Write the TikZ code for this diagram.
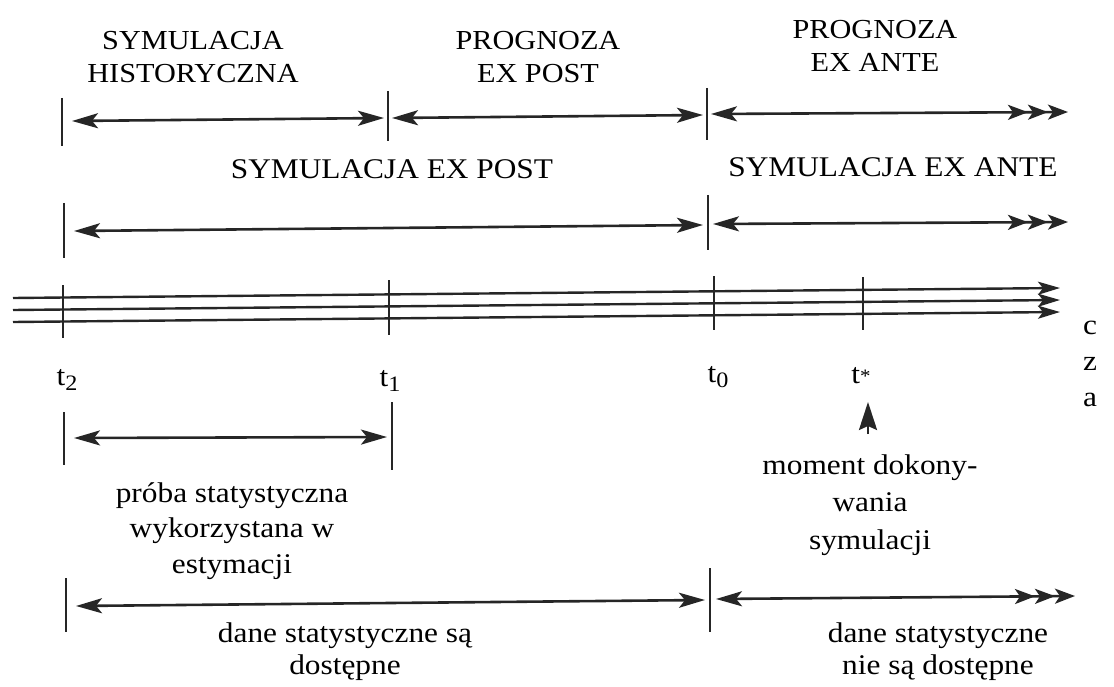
\documentclass[tikz,border=0pt]{standalone}
\usepackage{fontspec}
\setmainfont{Liberation Serif}[FakeStretch=1.1]
\usetikzlibrary{arrows.meta}
\newcommand{\tsub}[1]{t\raisebox{-0.35ex}{\fontsize{22}{22}\selectfont #1}}
\begin{document}
\begin{tikzpicture}[x=1pt,y=-1pt,
  txt/.style={font=\fontsize{28.5}{34}\selectfont, align=center, inner sep=0pt},
  toptxt/.style={txt, font=\fontsize{27.5}{33.5}\selectfont},
  tick/.style={line width=2.6pt, draw=black!85},
  span/.style={line width=2.6pt, draw=black!85, {Stealth[length=26pt,width=15pt,inset=6pt]}-{Stealth[length=26pt,width=15pt,inset=6pt]}},
  open/.style={line width=2.6pt, draw=black!85, {Stealth[length=26pt,width=15pt,inset=6pt]}-{Stealth[length=20pt,width=15pt,inset=5pt] Stealth[length=20pt,width=15pt,inset=5pt] Stealth[length=20pt,width=15pt,inset=5pt]}},
  axis/.style={line width=2.4pt, draw=black!85, -{Stealth[length=22pt,width=13pt,inset=5pt]}},
  up/.style={line width=2.6pt, draw=black!85, -{Stealth[length=28pt,width=18pt,inset=4pt]}}]
\useasboundingbox (0,0) rectangle (1114,687);
% row 1 labels
\node[toptxt] (lhist) at (193,57) {SYMULACJA\\HISTORYCZNA};
\node[toptxt] (lpost) at (538,57) {PROGNOZA\\EX POST};
\node[toptxt] (lante) at (875,46) {PROGNOZA\\EX ANTE};
% row 1 ticks and spans
\coordinate (a1t) at (62,98);  \coordinate (a1b) at (62,146);
\coordinate (a2t) at (388,91); \coordinate (a2b) at (388,141);
\coordinate (a3t) at (707,88); \coordinate (a3b) at (707,140);
\draw[tick] (a1t) -- (a1b);
\draw[tick] (a2t) -- (a2b);
\draw[tick] (a3t) -- (a3b);
\coordinate (a1s) at (72,121); \coordinate (a2e) at (384,118);
\coordinate (a2s) at (392,118); \coordinate (a3e) at (703,115);
\coordinate (a3s) at (711,114); \coordinate (a4e) at (1068,112);
\draw[span] (a1s) -- (a2e);
\draw[span] (a2s) -- (a3e);
\draw[open] (a3s) -- (a4e);
% row 2
\node[txt] (lsimpost) at (392,169) {SYMULACJA EX POST};
\node[txt] (lsimante) at (893,167) {SYMULACJA EX ANTE};
\coordinate (b1t) at (64,203); \coordinate (b1b) at (64,258);
\coordinate (b2t) at (708,195); \coordinate (b2b) at (708,250);
\draw[tick] (b1t) -- (b1b);
\draw[tick] (b2t) -- (b2b);
\coordinate (b1s) at (74,231); \coordinate (b2e) at (703,225);
\coordinate (b2s) at (713,224); \coordinate (b3e) at (1068,222);
\draw[span] (b1s) -- (b2e);
\draw[open] (b2s) -- (b3e);
% time axis
\coordinate (x1s) at (13,298); \coordinate (x1e) at (1060,288);
\coordinate (x2s) at (13,310); \coordinate (x2e) at (1060,300);
\coordinate (x3s) at (13,322); \coordinate (x3e) at (1060,312);
\draw[axis] (x1s) -- (x1e);
\draw[axis] (x2s) -- (x2e);
\draw[axis] (x3s) -- (x3e);
\coordinate (c2t) at (63,285); \coordinate (c2b) at (63,338);
\coordinate (c1t) at (389,280); \coordinate (c1b) at (389,335);
\coordinate (c0t) at (714,276); \coordinate (c0b) at (714,330);
\coordinate (cst) at (863,277); \coordinate (csb) at (863,330);
\draw[tick] (c2t) -- (c2b);
\draw[tick] (c1t) -- (c1b);
\draw[tick] (c0t) -- (c0b);
\draw[tick] (cst) -- (csb);
\node[txt] (t2) at (67,380) {\tsub{2}};
\node[txt] (t1) at (390,381) {\tsub{1}};
\node[txt] (t0) at (718,377) {\tsub{0}};
\node[txt] (ts) at (861,376) {t\raisebox{0.1ex}{\fontsize{19}{19}\selectfont *}};
\node[txt, font=\fontsize{28.5}{36}\selectfont] (czas) at (1090,364) {c\\z\\a};
% moment
\coordinate (mb) at (868,434); \coordinate (mt) at (868,402);
\draw[up] (mb) -- (mt);
\node[txt, font=\fontsize{28.5}{37.5}\selectfont] (lmom) at (870,505) {moment dokony-\\wania\\symulacji};
% sample
\coordinate (d1t) at (64,412); \coordinate (d1b) at (64,465);
\coordinate (d2t) at (392,402); \coordinate (d2b) at (392,470);
\draw[tick] (d1t) -- (d1b);
\draw[tick] (d2t) -- (d2b);
\coordinate (d1s) at (74,438); \coordinate (d2e) at (387,437);
\draw[span] (d1s) -- (d2e);
\node[txt, font=\fontsize{28.5}{35.5}\selectfont] (lproba) at (232,531) {próba statystyczna\\wykorzystana w\\estymacji};
% bottom
\coordinate (e1t) at (66,578); \coordinate (e1b) at (66,632);
\coordinate (e2t) at (710,568); \coordinate (e2b) at (710,632);
\draw[tick] (e1t) -- (e1b);
\draw[tick] (e2t) -- (e2b);
\coordinate (e1s) at (76,606); \coordinate (e2e) at (705,600);
\coordinate (e2s) at (716,599); \coordinate (e3e) at (1075,596);
\draw[span] (e1s) -- (e2e);
\draw[open] (e2s) -- (e3e);
\node[txt, font=\fontsize{28.5}{32}\selectfont] (ldost) at (345,652) {dane statystyczne są\\dostępne};
\node[txt, font=\fontsize{28.5}{32}\selectfont] (lndost) at (938,652) {dane statystyczne\\nie są dostępne};
\end{tikzpicture}
\end{document}
